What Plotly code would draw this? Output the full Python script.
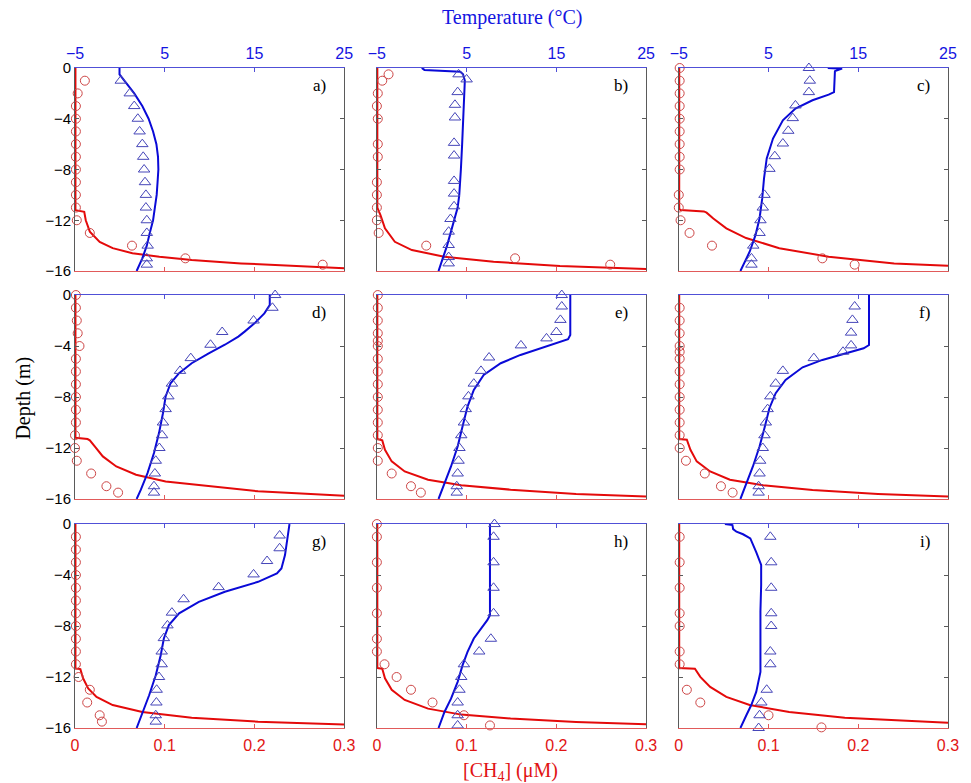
import plotly.graph_objects as go

# ---------------- data ----------------
# depth in m (negative), CH4 in uM, temperature in degC
a_ch4_d = [-1, -2, -3, -4, -5, -6, -7, -8, -9, -10, -11, -12, -13, -14, -15, -15.5]
a_ch4 = [0.011, 0.003, 0.001, 0.001, 0.001, 0.001, 0.001, 0.001, 0.001, 0.001, 0.001, 0.002, 0.0165, 0.0635, 0.123, 0.276]
a_temp_d = [-1, -2, -3, -4, -5, -6, -7, -8, -9, -10, -11, -12, -13, -14, -15, -15.5]
a_temp = [0.1, 1.1, 1.6, 2.0, 2.2, 2.5, 2.6, 2.7, 2.8, 2.9, 2.9, 3.0, 3.0, 3.1, 3.0, 3.0]
a_mT_d = [0, -0.5, -1, -2, -3, -4, -5, -6, -7, -8, -9, -10, -11, -12, -13, -14, -15, -16]
a_mT = [-0.04, -0.04, 0.5, 1.6, 2.5, 3.2, 3.7, 4.07, 4.25, 4.29, 4.2, 4.1, 3.9, 3.7, 3.33, 3.0, 2.5, 1.87]
a_mC_d = [0, -11.2, -11.33, -12.0, -12.9, -13.7, -14.2, -14.6, -14.87, -15.13, -15.4, -15.6, -15.79]
a_mC = [0.0005, 0.0005, 0.0103, 0.012, 0.0165, 0.0275, 0.042, 0.064, 0.094, 0.13, 0.185, 0.24, 0.3]

b_ch4_d = [-0.5, -1, -2, -3, -4, -6, -7, -9, -10, -11, -12, -13, -14, -15, -15.5]
b_ch4 = [0.013, 0.006, 0.001, 0.0, 0.001, 0.001, 0.001, 0.0, 0.0, 0.0, 0.0, 0.002, 0.055, 0.154, 0.26]
b_temp_d = [-0.5, -0.9, -1.9, -2.9, -3.9, -5.9, -6.9, -8.9, -9.9, -10.9, -11.9, -12.9, -13.95, -14.9, -15.4]
b_temp = [4.1, 5.0, 4.0, 3.7, 3.7, 3.6, 3.6, 3.6, 3.6, 3.6, 3.2, 3.0, 3.0, 3.0, 3.0]
b_mT_d = [0, -0.15, -0.3, -0.5, -1, -3, -5, -6, -8, -10, -11, -12, -13, -14, -15, -16]
b_mT = [0.0, 0.3, 4.3, 4.6, 4.8, 4.7, 4.6, 4.5, 4.36, 4.18, 4.0, 3.63, 3.19, 2.82, 2.34, 1.87]
b_mC_d = [0, -11.0, -11.6, -12.64, -13.7, -14.35, -14.87, -15.27, -15.6, -15.84]
b_mC = [0.0005, 0.0005, 0.004, 0.009, 0.02, 0.039, 0.075, 0.13, 0.204, 0.3]

c_ch4_d = [0, -1, -2, -3, -4, -5, -6, -7, -8, -10, -11, -12, -13, -14, -15, -15.5]
c_ch4 = [0.001, 0.001, 0.001, 0.001, 0.001, 0.001, 0.001, 0.001, 0.001, 0.0, 0.0, 0.002, 0.012, 0.037, 0.16, 0.196]
c_temp_d = [0, -1, -1.9, -2.95, -3.95, -4.95, -5.95, -6.95, -7.95, -10, -11, -12, -13, -14, -15, -15.5]
c_temp = [9.5, 9.6, 9.5, 8.0, 7.7, 7.2, 6.6, 5.7, 5.1, 4.55, 4.36, 4.1, 4.0, 3.3, 3.1, 3.1]
c_mT_d = [0, -0.05, -0.25, -1.9, -2.1, -2.54, -3.2, -4.12, -5.56, -7.13, -8.7, -10.28, -11.86, -13.17, -14.48, -15.27, -16]
c_mT = [11.6, 13.2, 12.4, 12.3, 11.7, 9.9, 8.0, 6.6, 5.5, 4.8, 4.5, 4.3, 4.0, 3.55, 2.9, 2.34, 1.87]
c_mC_d = [0, -11.1, -11.2, -11.3, -11.4, -11.86, -12.64, -13.4, -14.2, -14.87, -15.4, -15.58]
c_mC = [0.0005, 0.0005, 0.002, 0.028, 0.031, 0.0385, 0.053, 0.075, 0.112, 0.167, 0.24, 0.3]

d_ch4_d = [0, -1, -2, -3, -4, -5, -6, -7, -8, -9, -10, -11, -12, -13, -14, -15, -15.5]
d_ch4 = [0.001, 0.001, 0.002, 0.003, 0.005, 0.001, 0.001, 0.001, 0.001, 0.001, 0.001, 0.0, 0.0, 0.002, 0.018, 0.035, 0.048]
d_temp_d = [0, -1, -2, -2.9, -3.9, -4.95, -5.95, -6.95, -7.95, -8.95, -10, -11, -12, -13, -14, -15, -15.5]
d_temp = [17.3, 17.0, 14.9, 11.4, 10.1, 7.9, 6.7, 5.8, 5.4, 5.1, 4.8, 4.7, 4.4, 4.0, 3.9, 3.8, 3.8]
d_mT_d = [0, -0.78, -1.44, -2.22, -2.87, -3.26, -3.9, -4.57, -5.35, -6.13, -6.92, -7.96, -9.27, -10.83, -12.4, -13.97, -15.27, -16]
d_mT = [16.7, 16.7, 16.1, 15.0, 13.9, 13.2, 11.7, 9.9, 8.0, 6.6, 5.65, 5.1, 4.8, 4.36, 3.8, 3.08, 2.34, 1.87]
d_mC_d = [0, -11.2, -11.3, -11.4, -11.88, -12.66, -13.45, -14.1, -14.62, -15.0, -15.4, -15.74]
d_mC = [0.0005, 0.0005, 0.014, 0.0165, 0.022, 0.031, 0.046, 0.068, 0.101, 0.149, 0.204, 0.3]

e_ch4_d = [0, -1, -2, -3, -3.6, -4, -5, -6, -7, -8, -9, -10, -11, -12, -13, -14, -15, -15.5]
e_ch4 = [0.001, 0.001, 0.001, 0.001, 0.001, 0.001, 0.001, 0.001, 0.001, 0.001, 0.001, 0.001, 0.001, 0.001, 0.001, 0.0165, 0.038, 0.049]
e_temp_d = [0, -0.9, -1.95, -2.9, -3.4, -3.95, -4.9, -5.95, -6.95, -7.95, -8.95, -10, -11, -12, -13, -14, -15, -15.5]
e_temp = [15.6, 15.6, 15.45, 15.0, 13.9, 11.05, 7.5, 6.6, 5.8, 5.2, 4.9, 4.7, 4.4, 4.2, 4.1, 4.0, 3.9, 3.9]
e_mT_d = [0, -3.13, -3.47, -4.05, -4.7, -5.35, -6.27, -7.44, -8.75, -10.3, -11.88, -13.45, -14.88, -16]
e_mT = [16.55, 16.55, 16.3, 13.9, 11.0, 8.8, 6.9, 5.8, 5.1, 4.55, 4.0, 3.26, 2.53, 1.87]
e_mC_d = [0, -11.3, -11.4, -12.14, -13.05, -13.84, -14.49, -14.93, -15.27, -15.6, -15.8]
e_mC = [0.0005, 0.0005, 0.006, 0.009, 0.0165, 0.031, 0.057, 0.094, 0.149, 0.222, 0.3]

f_ch4_d = [-1, -2, -3, -4, -4.45, -5, -6, -7, -8, -9, -10, -11, -12, -13, -14, -15, -15.5]
f_ch4 = [0.001, 0.001, 0.001, 0.001, 0.001, 0.001, 0.001, 0.001, 0.001, 0.001, 0.001, 0.001, 0.001, 0.008, 0.029, 0.047, 0.06]
f_temp_d = [-0.9, -1.95, -2.95, -3.95, -4.45, -4.95, -5.95, -6.95, -7.95, -8.95, -10, -11, -12, -13, -14, -15, -15.5]
f_temp = [14.6, 14.35, 14.2, 14.2, 13.3, 10.05, 6.6, 5.8, 5.2, 4.9, 4.7, 4.55, 4.36, 4.07, 4.0, 3.9, 3.9]
f_mT_d = [0, -3.92, -4.18, -4.52, -5.09, -5.67, -6.66, -7.7, -8.88, -10.44, -11.88, -13.45, -14.88, -16]
f_mT = [16.2, 16.2, 15.6, 13.9, 11.0, 8.8, 6.9, 5.8, 5.1, 4.55, 4.0, 3.26, 2.53, 1.87]
f_mC_d = [0, -11.3, -11.35, -12.14, -13.05, -13.84, -14.49, -14.93, -15.3, -15.6, -15.8]
f_mC = [0.0005, 0.0005, 0.009, 0.013, 0.02, 0.035, 0.057, 0.094, 0.149, 0.222, 0.3]

g_ch4_d = [-1, -2, -3, -4, -5, -6, -7, -8, -9, -10, -11, -12, -13, -14, -15, -15.5]
g_ch4 = [0.001, 0.001, 0.001, 0.001, 0.001, 0.001, 0.001, 0.001, 0.001, 0.001, 0.001, 0.004, 0.0165, 0.0136, 0.0275, 0.030]
g_temp_d = [-0.9, -1.9, -2.9, -3.95, -4.95, -5.9, -6.95, -7.95, -8.95, -10, -11, -12, -13, -14, -15, -15.5]
g_temp = [17.8, 17.8, 16.4, 14.9, 11.0, 7.1, 5.8, 5.3, 4.9, 4.66, 4.66, 4.36, 4.1, 4.07, 4.0, 4.0]
g_mT_d = [0, -1.13, -2.43, -3.48, -3.87, -4.53, -5.31, -6.1, -7.0, -7.93, -8.98, -10.29, -11.86, -13.43, -14.74, -16]
g_mT = [18.9, 18.7, 18.4, 18.0, 17.5, 15.4, 11.7, 8.8, 6.6, 5.46, 4.9, 4.55, 4.0, 3.26, 2.53, 1.87]
g_mC_d = [0, -11.33, -11.38, -12.1, -12.9, -13.56, -14.2, -14.74, -15.2, -15.5, -15.73]
g_mC = [0.0005, 0.0005, 0.006, 0.009, 0.0147, 0.024, 0.042, 0.075, 0.13, 0.204, 0.3]

h_ch4_d = [0, -1, -3, -5, -7, -9, -10, -11, -12, -13, -14, -15, -15.8]
h_ch4 = [0.0, 0.0, 0.0, 0.0, 0.0, 0.0, 0.0, 0.0085, 0.022, 0.038, 0.062, 0.097, 0.126]
h_temp_d = [0, -1, -3, -5, -7, -9, -10, -11, -12, -13, -14, -15, -15.8]
h_temp = [8.1, 8.0, 8.0, 8.0, 8.0, 7.7, 6.4, 4.7, 4.4, 4.2, 4.0, 4.0, 4.0]
h_mT_d = [0, -7.15, -7.54, -8.2, -8.98, -10.03, -11.07, -12.38, -13.7, -14.74, -16]
h_mT = [7.6, 7.6, 7.3, 6.6, 5.8, 5.1, 4.55, 4.0, 3.26, 2.53, 1.87]
h_mC_d = [0, -11.3, -11.35, -12.1, -13.0, -13.8, -14.48, -14.95, -15.26, -15.52, -15.7]
h_mC = [0.0005, 0.0005, 0.006, 0.009, 0.0165, 0.031, 0.057, 0.094, 0.149, 0.222, 0.3]

i_ch4_d = [-1, -3, -5, -7, -8, -10, -11, -13, -14, -15, -15.95]
i_ch4 = [0.001, 0.001, 0.001, 0.001, 0.001, 0.001, 0.001, 0.009, 0.024, 0.1, 0.159]
i_temp_d = [-1, -3, -5, -7, -8, -10, -11, -13, -14, -15, -16]
i_temp = [5.2, 5.3, 5.3, 5.3, 5.3, 5.2, 5.2, 4.8, 4.2, 4.0, 3.9]
i_mT_d = [0, -0.08, -0.4, -0.6, -0.8, -1.13, -2.2, -3.2, -4.78, -6.87, -9.5, -11.6, -13.17, -14.2, -15.0, -16]
i_mT = [0.14, 0.98, 1.06, 1.43, 2.16, 2.97, 3.63, 4.18, 4.18, 4.1, 4.1, 4.1, 3.63, 3.08, 2.53, 1.87]
i_mC_d = [0, -11.3, -11.35, -11.99, -12.78, -13.56, -14.2, -14.74, -15.2, -15.58]
i_mC = [0.0005, 0.0005, 0.018, 0.024, 0.035, 0.053, 0.079, 0.123, 0.185, 0.3]

panel_labels = ["a)", "b)", "c)", "d)", "e)", "f)", "g)", "h)", "i)"]
ch4_ticks = [0, 0.1, 0.2, 0.3]
ch4_ticktext = ["0", "0.1", "0.2", "0.3"]
temp_ticks = [-5, 5, 15, 25]
depth_ticks = [0, -4, -8, -12, -16]

panels = [
    (a_ch4_d, a_ch4, a_temp_d, a_temp, a_mT_d, a_mT, a_mC_d, a_mC),
    (b_ch4_d, b_ch4, b_temp_d, b_temp, b_mT_d, b_mT, b_mC_d, b_mC),
    (c_ch4_d, c_ch4, c_temp_d, c_temp, c_mT_d, c_mT, c_mC_d, c_mC),
    (d_ch4_d, d_ch4, d_temp_d, d_temp, d_mT_d, d_mT, d_mC_d, d_mC),
    (e_ch4_d, e_ch4, e_temp_d, e_temp, e_mT_d, e_mT, e_mC_d, e_mC),
    (f_ch4_d, f_ch4, f_temp_d, f_temp, f_mT_d, f_mT, f_mC_d, f_mC),
    (g_ch4_d, g_ch4, g_temp_d, g_temp, g_mT_d, g_mT, g_mC_d, g_mC),
    (h_ch4_d, h_ch4, h_temp_d, h_temp, h_mT_d, h_mT, h_mC_d, h_mC),
    (i_ch4_d, i_ch4, i_temp_d, i_temp, i_mT_d, i_mT, i_mC_d, i_mC),
]

# ---------------- styling ----------------
RED_LINE = "rgb(228,10,10)"
RED_MK = "rgb(205,70,70)"
BLUE_LINE = "rgb(10,10,215)"
BLUE_MK = "rgb(70,70,185)"
AX_RED = "rgb(225,90,90)"
AX_BLUE = "rgb(80,80,215)"
AX_GRAY = "rgb(90,90,90)"
SANS = "Liberation Sans, Arial, sans-serif"
NARROW = "Liberation Sans Narrow, Arial Narrow, Liberation Sans, sans-serif"
SERIF = "Liberation Serif, Times New Roman, serif"

xdoms = [[0.0, 0.3084], [0.3458, 0.6542], [0.6916, 1.0]]
ydoms = [[0.6924, 1.0], [0.347, 0.656], [0.0, 0.309]]


def ax_id(prefix, n):
    return prefix if n == 1 else f"{prefix}{n}"


fig = go.Figure()
layout = {}
annotations = []

for k, (cd, cv, td, tv, mtd, mtv, mcd, mcv) in enumerate(panels):
    r, c = divmod(k, 3)
    xb = ax_id("x", k + 1)
    xt = ax_id("x", k + 10)
    yy = ax_id("y", k + 1)

    fig.add_trace(go.Scatter(x=mtv, y=mtd, xaxis=xt, yaxis=yy, mode="lines",
                             line=dict(color=BLUE_LINE, width=2), showlegend=False, hoverinfo="skip"))
    fig.add_trace(go.Scatter(x=tv, y=td, xaxis=xt, yaxis=yy, mode="markers", cliponaxis=False,
                             marker=dict(symbol="triangle-up-open", size=10, color=BLUE_MK, line=dict(width=1)),
                             showlegend=False))
    fig.add_trace(go.Scatter(x=mcv, y=mcd, xaxis=xb, yaxis=yy, mode="lines",
                             line=dict(color=RED_LINE, width=2), showlegend=False, hoverinfo="skip"))
    fig.add_trace(go.Scatter(x=cv, y=cd, xaxis=xb, yaxis=yy, mode="markers", cliponaxis=False,
                             marker=dict(symbol="circle-open", size=9, color=RED_MK, line=dict(width=1)),
                             showlegend=False))

    layout[ax_id("xaxis", k + 1)] = dict(
        domain=xdoms[c], anchor=yy, range=[0, 0.3], tickvals=ch4_ticks, ticktext=ch4_ticktext,
        showticklabels=(r == 2), ticks="inside", ticklen=4, tickcolor=AX_RED,
        showline=True, linecolor=AX_RED, linewidth=1, showgrid=False, zeroline=False,
        ticklabelstandoff=3,
        tickfont=dict(family=SANS, size=16, color="rgb(225,20,20)"),
    )
    layout[ax_id("xaxis", k + 10)] = dict(
        overlaying=xb, side="top", anchor=yy, range=[-5, 25], tickvals=temp_ticks,
        showticklabels=(r == 0), ticks="inside", ticklen=4, tickcolor=AX_BLUE,
        showline=True, linecolor=AX_BLUE, linewidth=1, showgrid=False, zeroline=False,
        ticklabelstandoff=2,
        tickfont=dict(family=NARROW, size=16, color="rgb(20,20,225)"),
    )
    layout[ax_id("yaxis", k + 1)] = dict(
        domain=ydoms[r], anchor=xb, range=[-16, 0], tickvals=depth_ticks,
        showticklabels=(c == 0), ticks="inside", ticklen=4, tickcolor=AX_GRAY,
        showline=True, linecolor=AX_GRAY, linewidth=1, mirror="ticks",
        showgrid=False, zeroline=False,
        tickfont=dict(family=SANS, size=15, color="black"),
    )
    annotations.append(dict(
        text=panel_labels[k], xref=f"{xb} domain", yref=f"{yy} domain",
        x=0.94, y=0.915, xanchor="right", yanchor="middle", showarrow=False,
        font=dict(family=SERIF, size=17, color="black"),
    ))

annotations += [
    dict(text="Temperature (°C)", xref="paper", yref="paper", x=0.501, y=1.076,
         xanchor="center", yanchor="middle", showarrow=False,
         font=dict(family=SERIF, size=20, color="rgb(20,20,225)")),
    dict(text="[CH<sub>4</sub>] (μM)", xref="paper", yref="paper", x=0.499, y=-0.066,
         xanchor="center", yanchor="middle", showarrow=False,
         font=dict(family=SERIF, size=20, color="rgb(225,20,20)")),
    dict(text="Depth (m)", xref="paper", yref="paper", x=-0.06, y=0.5, textangle=-90,
         xanchor="center", yanchor="middle", showarrow=False,
         font=dict(family=SERIF, size=20, color="black")),
]

fig.update_layout(
    width=971, height=783,
    margin=dict(l=75, r=14, t=68, b=55),
    paper_bgcolor="white", plot_bgcolor="white",
    showlegend=False,
    annotations=annotations,
    **layout,
)

fig.write_html("out.html")
